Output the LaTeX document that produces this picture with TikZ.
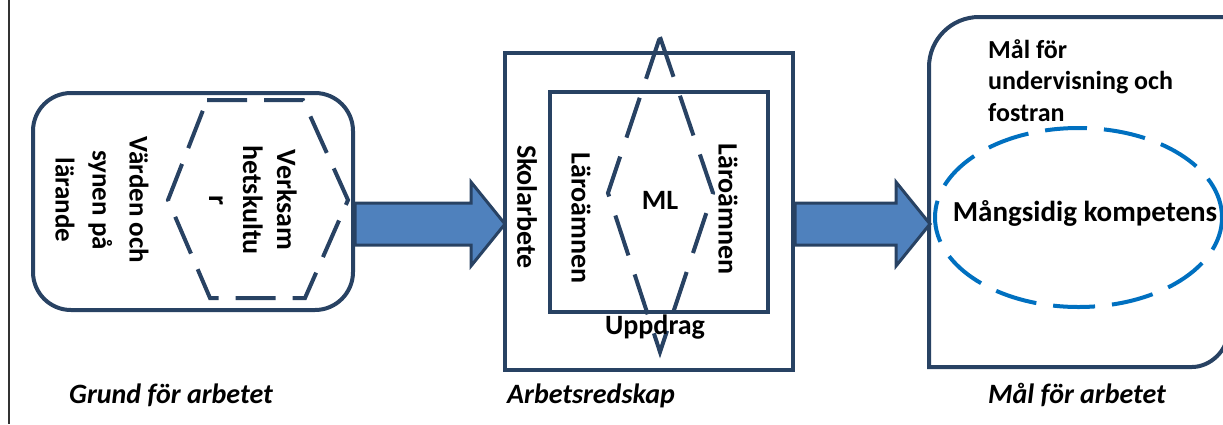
\documentclass[tikz,border=0pt]{standalone}
\usepackage{fontspec}
\setmainfont{Carlito}
\usetikzlibrary{shapes.geometric}
\definecolor{navy}{RGB}{40,66,99}
\definecolor{arrowfill}{RGB}{79,129,189}
\definecolor{ellblue}{RGB}{0,112,192}
\begin{document}
\begin{tikzpicture}[x=1pt,y=-1pt,
  box/.style={draw=navy, line width=4pt},
  dashline/.style={draw=navy, line width=4pt, dash pattern=on 40pt off 17pt},
  lbl/.style={font=\fontsize{28}{34}\selectfont\bfseries, align=center, inner sep=0pt},
  vlbl/.style={lbl, rotate=-90},
  caption/.style={font=\fontsize{28}{34}\selectfont\bfseries\itshape, inner sep=0pt, anchor=base},
  blockarrow/.style={draw=navy, line width=3pt, fill=arrowfill, line join=miter}]
\useasboundingbox (0,0) rectangle (1223,424);
% page frame line
\draw[line width=1.5pt, black!80] (9,0) -- (9,424);
% left box
\node[box, rounded corners=38pt, minimum width=320pt, minimum height=217pt, inner sep=0pt] (grund) at (193,201.5) {};
% hexagon
\draw[dashline] (207,100) -- (303,100) -- (348,200) -- (305,298) -- (210,298) -- (168,200) -- cycle;
\node[vlbl, font=\fontsize{28}{34}\selectfont\bfseries] (verk) at (253,200) {Verksam\\hetskultu\\r};
\node[vlbl, font=\fontsize{27}{37}\selectfont\bfseries] (varden) at (102,200) {Värden och\\synen på\\lärande};
% middle boxes
\node[box, minimum width=288pt, minimum height=317pt, inner sep=0pt] (outer) at (649,211.5) {};
\node[box, minimum width=218pt, minimum height=220pt, inner sep=0pt] (inner) at (659,202) {};
\draw[dashline, dash pattern=on 42pt off 20pt] (660,37) -- (713,193) -- (660,352) -- (608,193) -- cycle;
\node[vlbl] (skol) at (527,207) {Skolarbete};
\node[vlbl] (laro1) at (581,218) {Läroämnen};
\node[vlbl] (laro2) at (728,209) {Läroämnen};
\node[lbl] (ml) at (660,200) {ML};
\node[lbl] (uppdrag) at (655,327) {Uppdrag};
% right box
\draw[box] (929,367) -- (929,67) .. controls (929,39.4) and (951.4,17) .. (979,17)
  -- (1228,17) -- (1228,331) .. controls (1228,350.9) and (1209.9,367) .. (1192,367) -- cycle;
\node[draw=ellblue, line width=4pt, dash pattern=on 42pt off 17pt, ellipse,
  minimum width=287pt, minimum height=179pt, inner sep=0pt] (komp) at (1078.5,217.5) {};
\node[lbl, font=\fontsize{29}{34}\selectfont\bfseries] (kompt) at (1085,213) {Mångsidig kompetens};
\node[lbl, align=left, anchor=north west, font=\fontsize{26}{31.5}\selectfont\bfseries] (malf) at (988,39) {Mål för\\undervisning och\\fostran};
% block arrows
\draw[blockarrow] (355,203) -- (471,203) -- (471,182) -- (505,224) -- (471,266) -- (471,245) -- (355,245) -- cycle;
\draw[blockarrow] (795,203) -- (896,203) -- (896,182) -- (930,224) -- (896,266) -- (896,245) -- (795,245) -- cycle;
% captions
\node[caption] (c1) at (171,403) {Grund för arbetet};
\node[caption] (c2) at (591,403) {Arbetsredskap};
\node[caption] (c3) at (1077,403) {Mål för arbetet};
\end{tikzpicture}
\end{document}
